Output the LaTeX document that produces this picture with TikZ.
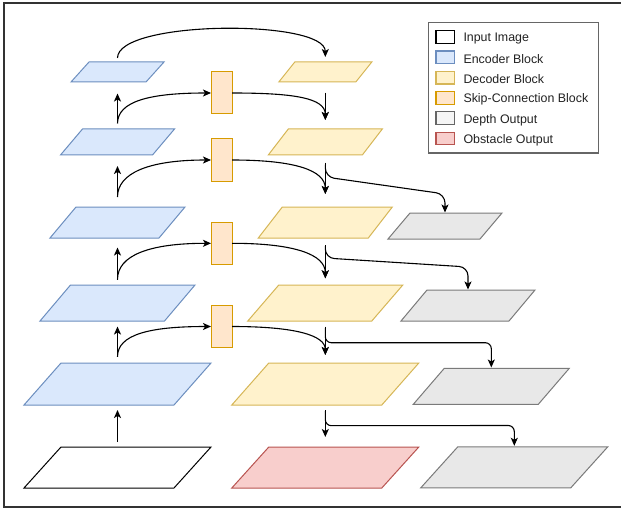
\documentclass[tikz,border=0pt]{standalone}
\usepackage{fontspec}
\setmainfont{Liberation Sans}
\usetikzlibrary{arrows.meta,calc}

\definecolor{encfill}{HTML}{DAE8FC}
\definecolor{encline}{HTML}{6C8EBF}
\definecolor{decfill}{HTML}{FFF2CC}
\definecolor{decline}{HTML}{D6B656}
\definecolor{skpfill}{HTML}{FFE6CC}
\definecolor{skpline}{HTML}{D79B00}
\definecolor{depfill}{HTML}{E8E8E8}
\definecolor{depline}{HTML}{7A7A7A}
\definecolor{legdepfill}{HTML}{F5F5F5}
\definecolor{legdepline}{HTML}{666666}
\definecolor{obsfill}{HTML}{F8CECC}
\definecolor{obsline}{HTML}{B85450}
\definecolor{framecol}{HTML}{333333}
\definecolor{legline}{HTML}{666666}
\definecolor{txt}{HTML}{222222}

% parallelogram inside the box of node #1, slanted by #2 pt, styled by #3
\newcommand\paral[3]{%
  \draw[#3] (#1.south west) -- ([xshift=#2pt]#1.north west) --
    (#1.north east) -- ([xshift=-#2pt]#1.south east) -- cycle;}

\begin{document}
\begin{tikzpicture}[x=1pt,y=-1pt,
  blk/.style={shape=rectangle, inner sep=0pt, outer sep=0pt},
  enc/.style={draw=encline, fill=encfill, line width=1pt},
  dec/.style={draw=decline, fill=decfill, line width=1pt},
  dep/.style={draw=depline, fill=depfill, line width=1pt},
  obs/.style={draw=obsline, fill=obsfill, line width=1pt},
  inp/.style={draw=black, fill=white, line width=1pt},
  skip/.style={blk, draw=skpline, fill=skpfill, line width=1pt,
    minimum width=21pt, minimum height=42pt},
  arr/.style={-{Stealth[length=8pt,width=7pt,inset=2pt]}, line width=1.1pt, black},
  swatch/.style={blk, line width=1.2pt, minimum width=18.5pt, minimum height=12.7pt},
  lbl/.style={anchor=west, inner sep=0pt, yshift=-1.6pt, text=txt,
    font=\fontsize{12.4pt}{14pt}\selectfont}
]
\useasboundingbox (0,0) rectangle (621,508);
\fill[white] (0,0) rectangle (621,508);
\draw[framecol, line width=1.2pt] (4,3) rectangle (626,507);

% encoder column
\node[blk, minimum width=93pt,  minimum height=20pt] (e1) at (117.5,72) {};
\node[blk, minimum width=114pt, minimum height=26pt] (e2) at (117.5,142) {};
\node[blk, minimum width=135pt, minimum height=31pt] (e3) at (117.5,222.5) {};
\node[blk, minimum width=155pt, minimum height=36pt] (e4) at (117.5,303) {};
\node[blk, minimum width=187pt, minimum height=42pt] (e5) at (117.5,384) {};
\node[blk, minimum width=187pt, minimum height=41pt] (in) at (117.5,467.5) {};
\paral{e1}{18}{enc}
\paral{e2}{22}{enc}
\paral{e3}{26}{enc}
\paral{e4}{30.5}{enc}
\paral{e5}{37}{enc}
\paral{in}{37}{inp}

% decoder column
\node[blk, minimum width=93pt,  minimum height=20pt] (d1) at (325.3,72) {};
\node[blk, minimum width=114pt, minimum height=26pt] (d2) at (325.3,142) {};
\node[blk, minimum width=134pt, minimum height=31pt] (d3) at (325.3,222.5) {};
\node[blk, minimum width=155pt, minimum height=36pt] (d4) at (325.3,303) {};
\node[blk, minimum width=187pt, minimum height=42pt] (d5) at (325.3,384) {};
\node[blk, minimum width=187pt, minimum height=41pt] (ob) at (325.3,467.5) {};
\paral{d1}{16}{dec}
\paral{d2}{20}{dec}
\paral{d3}{24}{dec}
\paral{d4}{31}{dec}
\paral{d5}{37}{dec}
\paral{ob}{37}{obs}

% depth outputs
\node[blk, minimum width=114pt, minimum height=26pt] (g2) at (445,226) {};
\node[blk, minimum width=134pt, minimum height=31pt] (g3) at (468,305.5) {};
\node[blk, minimum width=156pt, minimum height=36pt] (g4) at (491.3,386.3) {};
\node[blk, minimum width=187pt, minimum height=41pt] (g5) at (514.3,467.3) {};
\paral{g2}{22}{dep}
\paral{g3}{26}{dep}
\paral{g4}{31}{dep}
\paral{g5}{37}{dep}

% skip-connection blocks
\node[skip] (s1) at (221.5,93) {};
\node[skip] (s2) at (221.5,160) {};
\node[skip] (s3) at (221.5,243.3) {};
\node[skip] (s4) at (221.5,326.5) {};

% encoder path upwards
\draw[arr] ($(in.north)+(0,-5)$) -- ($(e5.south)+(0,5)$);
\draw[arr] ($(e5.north)+(0,-6.3)$) -- ($(e4.south)+(0,5.5)$);
\draw[arr] ($(e4.north)+(0,-5.5)$) -- ($(e3.south)+(0,9.5)$);
\draw[arr] ($(e3.north)+(0,-10)$) -- ($(e2.south)+(0,11)$);
\draw[arr] ($(e2.north)+(0,-5.5)$) -- ($(e1.south)+(0,11.5)$);

% bottleneck link
\draw[arr] ($(e1.north)+(0,-4)$) .. controls +(0,-38) and +(0,-38) .. ($(d1.north)+(0,-5)$);

% encoder features into skip blocks
\draw[arr] ($(e2.north)+(0,-5.5)$) .. controls +(0,-22) and +(-62,0) .. (s1.west);
\draw[arr] ($(e3.north)+(0,-10)$) .. controls +(0,-24) and +(-62,0) .. (s2.west);
\draw[arr] ($(e4.north)+(0,-5.5)$) .. controls +(0,-24) and +(-62,0) .. (s3.west);
\draw[arr] ($(e5.north)+(0,-6.3)$) .. controls +(0,-22) and +(-62,0) .. (s4.west);

% skip blocks into decoder
\draw[arr] (s1.east) .. controls +(62,0) and +(0,-22) .. ($(d2.north)+(0,-9)$);
\draw[arr] (s2.east) .. controls +(62,0) and +(0,-24) .. ($(d3.north)+(0,-13)$);
\draw[arr] (s3.east) .. controls +(62,0) and +(0,-24) .. ($(d4.north)+(0,-6.7)$);
\draw[arr] (s4.east) .. controls +(62,0) and +(0,-20) .. ($(d5.north)+(0,-8)$);

% decoder path downwards
\draw[arr] ($(d1.south)+(0,10.7)$) -- ($(d2.north)+(0,-9)$);
\draw[arr] ($(d2.south)+(0,7.5)$) -- ($(d3.north)+(0,-13)$);
\draw[arr] ($(d3.south)+(0,7)$) -- ($(d4.north)+(0,-6.7)$);
\draw[arr] ($(d4.south)+(0,5.7)$) -- ($(d5.north)+(0,-8)$);
\draw[arr] ($(d5.south)+(0,5)$) -- ($(ob.north)+(0,-10)$);

% depth heads
\draw[arr, rounded corners=9pt] ($(d2.south)+(0,9.5)$) -- ($(d2.south)+(0,22)$)
  -- ($(g2.north)+(0,-19)$) -- ($(g2.north)+(0,-0.5)$);
\draw[arr, rounded corners=9pt] ($(d3.south)+(0,8)$) -- ($(d3.south)+(0,20)$)
  -- ($(g3.north)+(0,-23)$) -- ($(g3.north)+(0,-0.5)$);
\draw[arr, rounded corners=6pt] ($(d4.south)+(0,7)$) -- ($(d4.south)+(0,21.7)$)
  -- ($(g4.north)+(0,-25.6)$) -- ($(g4.north)+(0,-0.8)$);
\draw[arr, rounded corners=6pt] ($(d5.south)+(0,6)$) -- ($(d5.south)+(0,20.7)$)
  -- ($(g5.north)+(0,-21.3)$) -- ($(g5.north)+(0,-1)$);

% legend
\node[blk, draw=legline, line width=1.3pt, minimum width=170pt, minimum height=130.3pt]
  (legend) at (513.3,87.85) {};
\node[swatch, draw=black, fill=white]          (k1) at (445.3,37)    {};
\node[swatch, draw=encline, fill=encfill]       (k2) at (445.3,57.3)  {};
\node[swatch, draw=decline, fill=decfill]       (k3) at (445.3,77.6)  {};
\node[swatch, draw=skpline, fill=skpfill]       (k4) at (445.3,97.9)  {};
\node[swatch, draw=legdepline, fill=legdepfill] (k5) at (445.3,118.2) {};
\node[swatch, draw=obsline, fill=obsfill]       (k6) at (445.3,138.5) {};
\node[lbl] (t1) at (463.3,37)    {Input Image};
\node[lbl] (t2) at (463.3,57.3)  {Encoder Block};
\node[lbl] (t3) at (463.3,77.6)  {Decoder Block};
\node[lbl] (t4) at (463.3,97.9)  {Skip-Connection Block};
\node[lbl] (t5) at (463.3,118.2) {Depth Output};
\node[lbl] (t6) at (463.3,138.5) {Obstacle Output};
\end{tikzpicture}
\end{document}
